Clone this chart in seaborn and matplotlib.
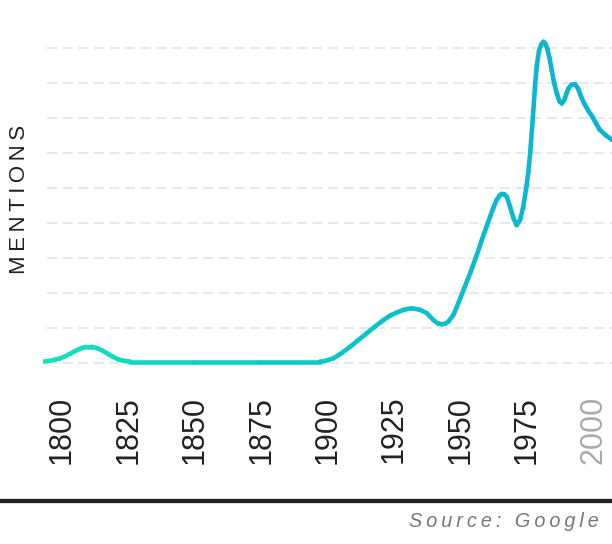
import numpy as np
import pandas as pd
import matplotlib
matplotlib.use("Agg")
import matplotlib.pyplot as plt
import seaborn as sns
from matplotlib.colors import LinearSegmentedColormap
from matplotlib.lines import Line2D
from matplotlib.transforms import ScaledTranslation

# values (mentions, in grid-line units)
years = [1793.7, 1796.0, 1798.0, 1800.0, 1802.0, 1804.0, 1806.0, 1808.0, 1810.0,
         1812.0, 1814.0, 1816.0, 1818.0, 1820.0, 1822.0, 1824.0, 1826.4,
         1850.0, 1875.0, 1897.9, 1899.5, 1902.9, 1906.0, 1909.2, 1912.3,
         1915.5, 1918.6, 1921.7, 1924.3, 1926.8, 1929.6, 1932.4, 1935.3,
         1938.1, 1940.6, 1942.2, 1943.7, 1945.0, 1946.2, 1948.1, 1949.4,
         1951.9, 1954.4, 1956.9, 1958.8, 1960.4, 1961.9, 1963.2, 1964.4,
         1965.4, 1966.3, 1967.2, 1968.2, 1969.4, 1970.7, 1971.9, 1973.2,
         1974.4, 1975.6, 1976.3, 1977.0, 1978.0, 1978.8, 1979.5, 1980.3,
         1981.2, 1982.0, 1982.8, 1983.5, 1984.3, 1985.1, 1986.0, 1987.0,
         1988.0, 1988.9, 1989.8, 1990.7, 1991.5, 1992.5, 1993.9, 1995.0,
         1996.1, 1997.4, 1998.9, 2000.4, 2001.8, 2003.2, 2005.5, 2007.8]
mentions = [0.05, 0.07, 0.10, 0.14, 0.20, 0.28, 0.36, 0.43, 0.47,
            0.47, 0.43, 0.36, 0.27, 0.18, 0.11, 0.07, 0.05,
            0.05, 0.05, 0.05, 0.06, 0.14, 0.29, 0.47, 0.66,
            0.86, 1.05, 1.23, 1.36, 1.45, 1.53, 1.57, 1.53,
            1.43, 1.23, 1.14, 1.11, 1.13, 1.19, 1.38, 1.61,
            2.09, 2.57, 3.09, 3.52, 3.86, 4.18, 4.45, 4.66,
            4.78, 4.83, 4.82, 4.75, 4.47, 4.14, 3.94, 4.09,
            4.47, 5.04, 5.45, 6.00, 7.00, 7.89, 8.50, 8.90,
            9.10, 9.17, 9.10, 8.95, 8.70, 8.36, 8.00, 7.70,
            7.47, 7.41, 7.50, 7.70, 7.85, 7.94, 7.96, 7.84,
            7.62, 7.40, 7.20, 7.03, 6.84, 6.66, 6.50, 6.37]
tick_years = [1800, 1825, 1850, 1875, 1900, 1925, 1950, 1975, 2000]
grid_levels = list(range(10))

W, H = 612, 544
x0, x1 = 1793.6, 2007.8

sns.set_theme(style="white")
plt.rcParams["font.family"] = ["Liberation Sans", "DejaVu Sans"]

fig = plt.figure(figsize=(W / 100, H / 100), dpi=100)
ax = fig.add_axes([43 / W, (H - 375) / H, (W - 43) / W, 355 / H])

# split the curve into short pieces so the colour can fade along x
rows = []
for i in range(len(years) - 1):
    mid = (years[i] + years[i + 1]) / 2
    rows.append((years[i], mentions[i], i, mid))
    rows.append((years[i + 1], mentions[i + 1], i, mid))
df = pd.DataFrame(rows, columns=["year", "mentions", "seg", "mid"])

cmap = LinearSegmentedColormap.from_list("teal", ["#14e2bc", "#0cc6c8", "#0ab2d2"])

for lv in grid_levels:
    ax.axhline(lv, color="#e6e8ec", lw=1.5, linestyle=(5.6, (4.8, 2.7)), zorder=0)

sns.lineplot(data=df, x="year", y="mentions", hue="mid", units="seg",
             estimator=None, palette=cmap, hue_norm=(x0, x1), sort=False,
             lw=3.3, solid_capstyle="round", solid_joinstyle="round",
             legend=False, ax=ax)

ax.set_xlim(x0, x1)
ax.set_ylim(-0.334, 9.79)
ax.set_yticks([])
ax.set_xticks(tick_years)
ax.set_xticklabels([str(y) for y in tick_years], rotation=90, fontsize=22)
ax.tick_params(axis="x", length=0, pad=15)
shift = ScaledTranslation(2 / 100, 0, fig.dpi_scale_trans)
for lab, yr in zip(ax.get_xticklabels(), tick_years):
    lab.set_color("#aaaaaa" if yr == 2000 else "#222222")
    lab.set_transform(lab.get_transform() + shift)
ax.set_xlabel("")
sns.despine(ax=ax, left=True, bottom=True)

ax.set_ylabel("\u2009".join("MENTIONS"), fontsize=16, color="#222222", va="center")
ax.yaxis.set_label_coords((19.5 - 43) / (W - 43), 0.495)

fig.add_artist(Line2D([0, 1], [1 - 500.5 / H] * 2, transform=fig.transFigure,
                      lw=3.1, color="#222222"))
fig.text(598.3 / W, (H - 526.7) / H, "\u2009".join("Source: Google"),
         ha="right", va="baseline", fontsize=14.3, style="italic", color="#777777")

fig.savefig("out.png", dpi=100)
